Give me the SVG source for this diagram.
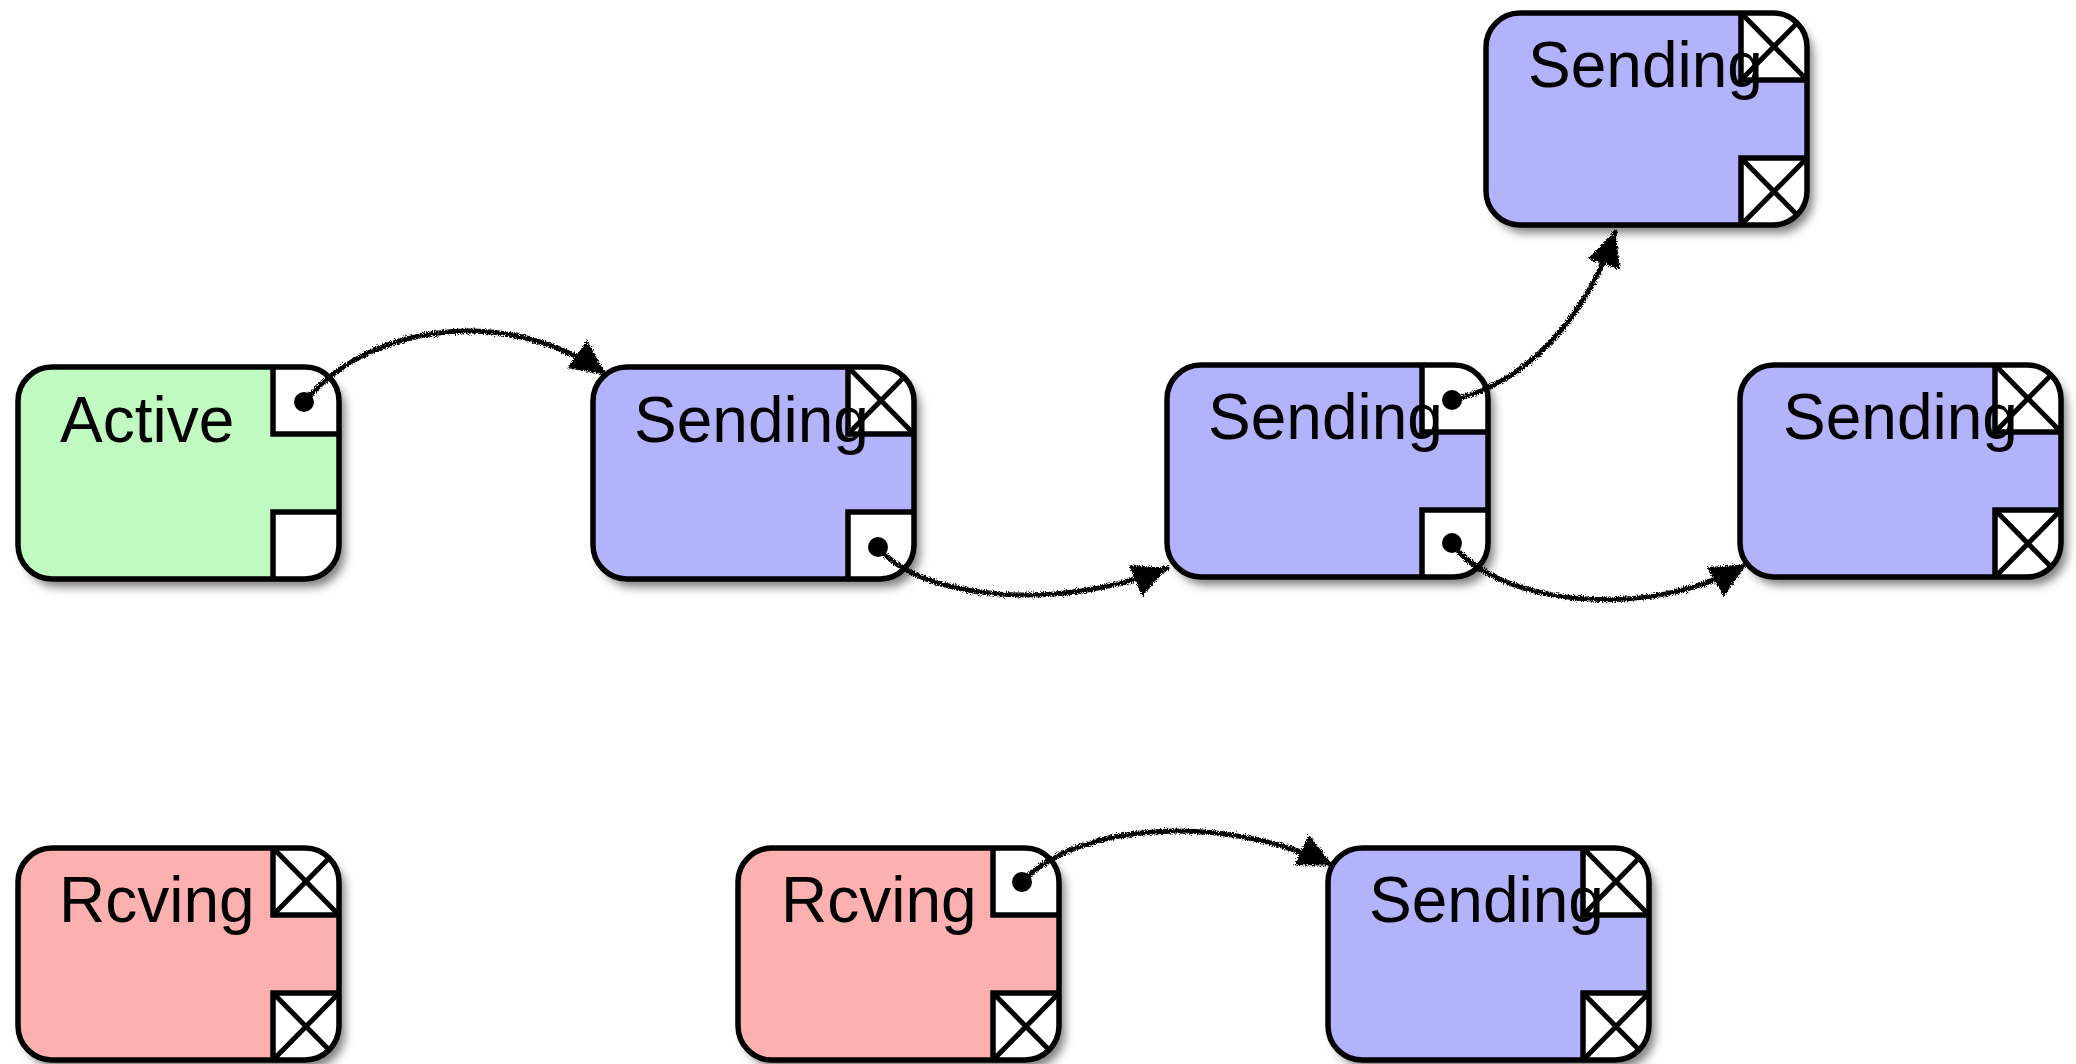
<svg xmlns="http://www.w3.org/2000/svg" xmlns:xlink="http://www.w3.org/1999/xlink" width="2076" height="1064" viewBox="0 0 2076 1064">
  <style>
    .body { stroke: none; filter: url(#shadow); }
    .green { fill: #c0fac0; }
    .blue { fill: #b3b3fc; }
    .pink { fill: #fdb0b0; }
    .outline { fill: none; stroke: #000; stroke-width: 5.5; }
    .port { fill: #fff; stroke: #000; stroke-width: 5.5; }
    .cross { stroke: #000; stroke-width: 5; fill: none; }
    .dot { fill: #000; }
    .label { font-family: "Liberation Sans", Arial, sans-serif; font-size: 64px; fill: #000; }
    .wire { fill: none; stroke: #000; stroke-width: 5; stroke-linecap: round; marker-end: url(#arrow); }
  </style>
  <defs>
    <filter id="shadow" x="-10%" y="-10%" width="130%" height="135%">
      <feDropShadow dx="6" dy="8" stdDeviation="5" flood-color="#000" flood-opacity="0.5"/>
    </filter>
    <filter id="rough" x="-5%" y="-5%" width="110%" height="110%">
      <feTurbulence type="fractalNoise" baseFrequency="0.9" numOctaves="2" seed="3" result="noise"/>
      <feDisplacementMap in="SourceGraphic" in2="noise" scale="6" xChannelSelector="R" yChannelSelector="G"/>
    </filter>
    <clipPath id="nodeClip">
      <rect x="0" y="0" width="321" height="212" rx="34"/>
    </clipPath>
    <marker id="arrow" viewBox="0 0 36 36" refX="34" refY="18" markerWidth="36" markerHeight="36" markerUnits="userSpaceOnUse" orient="auto">
      <path d="M0,1 L35,18 L0,35 Z" fill="#000"/>
    </marker>
    <!-- reusable port crosses -->
    <g id="xTop">
      <path class="cross" d="M255,0 L321,67 M321,0 L255,67"/>
    </g>
    <g id="xBot">
      <path class="cross" d="M255,145 L321,212 M321,145 L255,212"/>
    </g>
  </defs>

  <rect width="2076" height="1064" fill="#fff"/>

  <!-- Active -->
  <g id="node-active" transform="translate(18,367)">
    <rect class="body green" width="321" height="212" rx="34"/>
    <g clip-path="url(#nodeClip)">
      <rect class="port" x="255" y="-5" width="72" height="72"/>
      <rect class="port" x="255" y="145" width="72" height="72"/>
    </g>
    <rect class="outline" width="321" height="212" rx="34"/>
    <circle class="dot" cx="286" cy="35" r="10"/>
    <text class="label" x="42" y="75">Active</text>
  </g>

  <!-- Sending (row 1, second) -->
  <g id="node-sending-1" transform="translate(593,367)">
    <rect class="body blue" width="321" height="212" rx="34"/>
    <g clip-path="url(#nodeClip)">
      <rect class="port" x="255" y="-5" width="72" height="72"/>
      <use xlink:href="#xTop"/>
      <rect class="port" x="255" y="145" width="72" height="72"/>
    </g>
    <rect class="outline" width="321" height="212" rx="34"/>
    <circle class="dot" cx="285" cy="180" r="10"/>
    <text class="label" x="41" y="75">Sending</text>
  </g>

  <!-- Sending (row 1, third) -->
  <g id="node-sending-2" transform="translate(1167,365)">
    <rect class="body blue" width="321" height="212" rx="34"/>
    <g clip-path="url(#nodeClip)">
      <rect class="port" x="255" y="-5" width="72" height="72"/>
      <rect class="port" x="255" y="145" width="72" height="72"/>
    </g>
    <rect class="outline" width="321" height="212" rx="34"/>
    <circle class="dot" cx="285" cy="35" r="10"/>
    <circle class="dot" cx="285" cy="178" r="10"/>
    <text class="label" x="41" y="74">Sending</text>
  </g>

  <!-- Sending (top) -->
  <g id="node-sending-3" transform="translate(1486,13)">
    <rect class="body blue" width="321" height="212" rx="34"/>
    <g clip-path="url(#nodeClip)">
      <rect class="port" x="255" y="-5" width="72" height="72"/>
      <use xlink:href="#xTop"/>
      <rect class="port" x="255" y="145" width="72" height="72"/>
      <use xlink:href="#xBot"/>
    </g>
    <rect class="outline" width="321" height="212" rx="34"/>
    <text class="label" x="42" y="74">Sending</text>
  </g>

  <!-- Sending (row 1, right) -->
  <g id="node-sending-4" transform="translate(1740,365)">
    <rect class="body blue" width="321" height="212" rx="34"/>
    <g clip-path="url(#nodeClip)">
      <rect class="port" x="255" y="-5" width="72" height="72"/>
      <use xlink:href="#xTop"/>
      <rect class="port" x="255" y="145" width="72" height="72"/>
      <use xlink:href="#xBot"/>
    </g>
    <rect class="outline" width="321" height="212" rx="34"/>
    <text class="label" x="43" y="74">Sending</text>
  </g>

  <!-- Rcving (bottom left) -->
  <g id="node-rcving-1" transform="translate(18,848)">
    <rect class="body pink" width="321" height="212" rx="34"/>
    <g clip-path="url(#nodeClip)">
      <rect class="port" x="255" y="-5" width="72" height="72"/>
      <use xlink:href="#xTop"/>
      <rect class="port" x="255" y="145" width="72" height="72"/>
      <use xlink:href="#xBot"/>
    </g>
    <rect class="outline" width="321" height="212" rx="34"/>
    <text class="label" x="41" y="74">Rcving</text>
  </g>

  <!-- Rcving (bottom middle) -->
  <g id="node-rcving-2" transform="translate(738,848)">
    <rect class="body pink" width="321" height="212" rx="34"/>
    <g clip-path="url(#nodeClip)">
      <rect class="port" x="255" y="-5" width="72" height="72"/>
      <rect class="port" x="255" y="145" width="72" height="72"/>
      <use xlink:href="#xBot"/>
    </g>
    <rect class="outline" width="321" height="212" rx="34"/>
    <circle class="dot" cx="284" cy="34" r="10"/>
    <text class="label" x="43" y="74">Rcving</text>
  </g>

  <!-- Sending (bottom right) -->
  <g id="node-sending-5" transform="translate(1328,848)">
    <rect class="body blue" width="321" height="212" rx="34"/>
    <g clip-path="url(#nodeClip)">
      <rect class="port" x="255" y="-5" width="72" height="72"/>
      <use xlink:href="#xTop"/>
      <rect class="port" x="255" y="145" width="72" height="72"/>
      <use xlink:href="#xBot"/>
    </g>
    <rect class="outline" width="321" height="212" rx="34"/>
    <text class="label" x="41" y="74">Sending</text>
  </g>

  <!-- connectors, drawn with a hand-sketched roughness -->
  <g id="connectors" filter="url(#rough)">
    <path class="wire" d="M305,402 C360,330 500,300 605,374"/>
    <path class="wire" d="M878,547 C920,600 1060,612 1167,568"/>
    <path class="wire" d="M1452,400 C1540,380 1592,300 1615,232"/>
    <path class="wire" d="M1452,543 C1490,600 1640,625 1745,565"/>
    <path class="wire" d="M1022,882 C1080,820 1230,815 1332,865"/>
  </g>
</svg>
